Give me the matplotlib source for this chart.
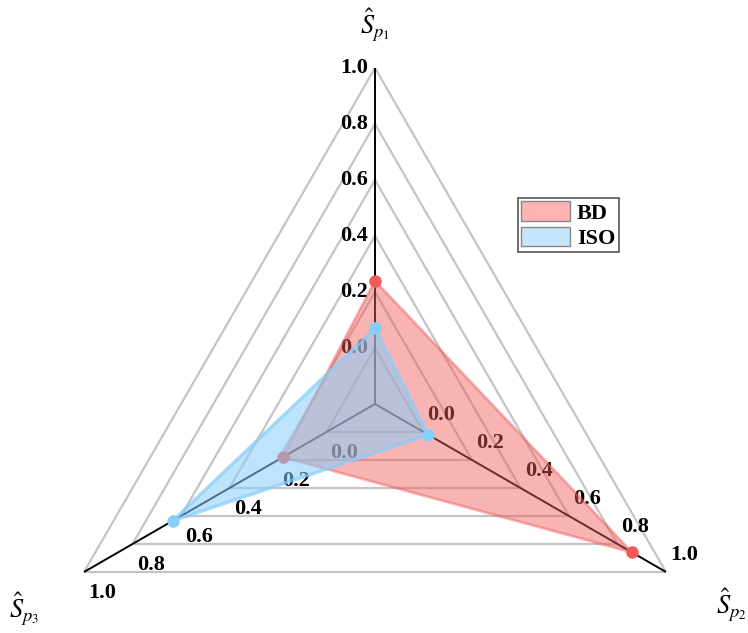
import numpy as np
import matplotlib
matplotlib.use("Agg")
import matplotlib.pyplot as plt
from matplotlib.patches import Patch

# axis names (counter-clockwise from top) and their angles
axis_labels = [r"$\hat{S}_{p_1}$", r"$\hat{S}_{p_2}$", r"$\hat{S}_{p_3}$"]
axis_angles_deg = [90, -30, 210]

ring_values = [0.0, 0.2, 0.4, 0.6, 0.8, 1.0]
ring_labels = ["0.0", "0.2", "0.4", "0.6", "0.8", "1.0"]

series_names = ["BD", "ISO"]
bd_values = [0.24, 0.86, 0.18]
iso_values = [0.07, 0.02, 0.635]

r_min, r_max = -0.2, 1.0

bd_color = "#f05a5a"
iso_color = "#87cefa"

plt.rcParams["mathtext.fontset"] = "stix"
serif = ["Liberation Serif", "DejaVu Serif"]

fig = plt.figure(figsize=(7.48, 6.33), dpi=100)
# polar axes: circle of radius 336 px centred at (375, 404) px from top-left
ax = fig.add_axes([39 / 748, (633 - 404 - 336) / 633, 672 / 748, 672 / 633],
                  projection="polar")
ax.set_ylim(r_min, r_max)
ax.set_xticks([])
ax.set_yticks([])
ax.grid(False)
ax.spines["polar"].set_visible(False)
ax.patch.set_visible(False)

theta = np.deg2rad(axis_angles_deg)
theta_closed = np.append(theta, theta[0])

# triangular grid
for v in ring_values:
    ax.plot(theta_closed, [v] * 4, color="#c4c4c4", lw=1.6, zorder=1)

# spokes
for t in theta:
    ax.plot([t, t], [r_min, r_max], color="black", lw=1.4, zorder=2)

# ring labels along each spoke
label_style = dict(fontsize=16, fontweight="bold", family=serif,
                   textcoords="offset points", zorder=3, annotation_clip=False)
for v, lab in zip(ring_values, ring_labels):
    ax.annotate(lab, (theta[0], v), xytext=(-5, 0), ha="right", va="center",
                **label_style)
    ax.annotate(lab, (theta[1], v), xytext=(13, 12), ha="center", va="center",
                **label_style)
    ax.annotate(lab, (theta[2], v), xytext=(13, -15), ha="center", va="center",
                **label_style)

# axis titles
title_offsets = [(0, 31), (47, -24), (-43, -27)]
for t, lab, off in zip(theta, axis_labels, title_offsets):
    ax.annotate(lab, (t, r_max), xytext=off, textcoords="offset points",
                ha="center", va="center", fontsize=19, annotation_clip=False)

# series
bd_closed = bd_values + bd_values[:1]
iso_closed = iso_values + iso_values[:1]

ax.fill(theta_closed, bd_closed, color=bd_color, alpha=0.46, lw=0, zorder=4)
ax.plot(theta_closed, bd_closed, color=bd_color, alpha=0.45, lw=2, zorder=4)
ax.plot(theta, bd_values, "o", color=bd_color, ms=9, mec="none", zorder=4)

ax.fill(theta_closed, iso_closed, color=iso_color, alpha=0.55, lw=0, zorder=5)
ax.plot(theta_closed, iso_closed, color=iso_color, alpha=0.7, lw=2.5, zorder=5)
ax.plot(theta, iso_values, "o", color=iso_color, ms=9, mec="none", zorder=6)

handles = [Patch(facecolor="#ffb3b3", edgecolor="#888888", lw=1),
           Patch(facecolor="#c5e6fb", edgecolor="#888888", lw=1)]
leg = fig.legend(handles, series_names, loc="upper left",
                 bbox_to_anchor=(518 / 748, 1 - 198 / 633),
                 bbox_transform=fig.transFigure, borderaxespad=0,
                 prop={"family": serif, "weight": "bold", "size": 16},
                 handlelength=2.2, handleheight=1.0, handletextpad=0.3,
                 labelspacing=0.12, borderpad=0.15, fancybox=False,
                 framealpha=1, edgecolor="#555555")
leg.get_frame().set_linewidth(1.2)

fig.savefig("out.png", dpi=100)
